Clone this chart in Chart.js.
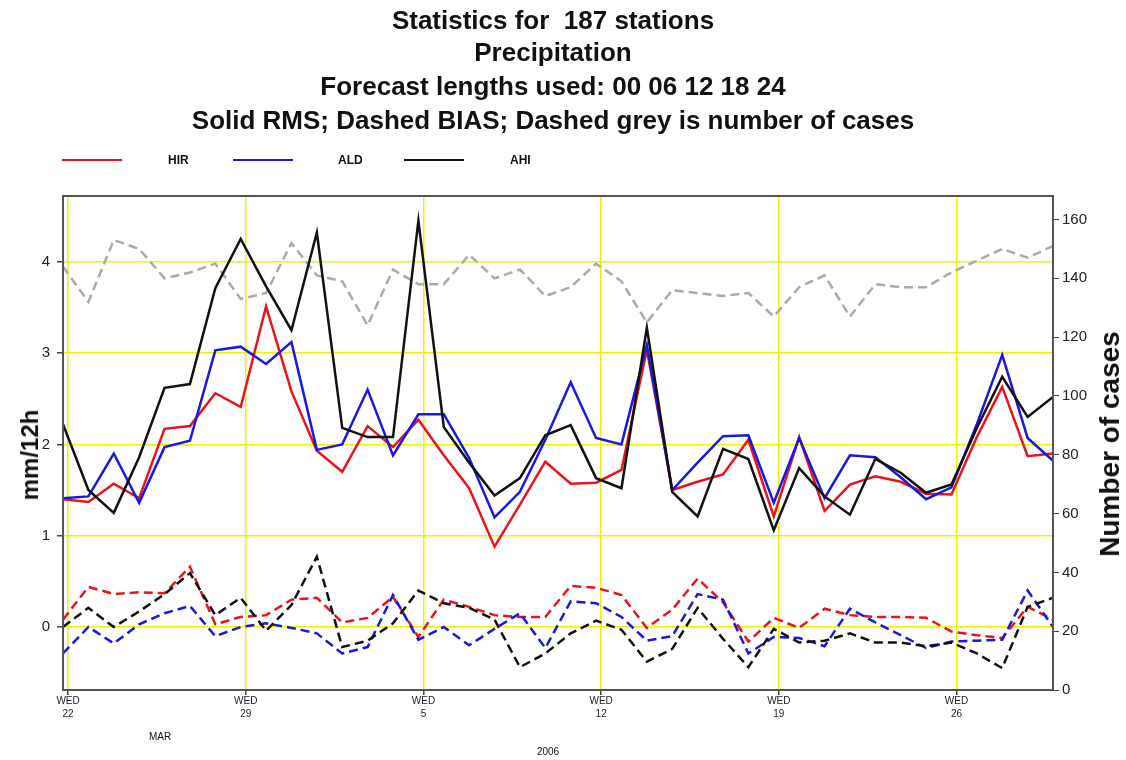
<!DOCTYPE html>
<html>
<head>
<meta charset="utf-8">
<script src="https://cdn.jsdelivr.net/npm/chart.js@4.4.0/dist/chart.umd.min.js"></script>
<style>
  body { margin: 0; background: #fff; }
  #wrap { position: relative; width: 1126px; height: 760px; font-family: "Liberation Sans", Arial, sans-serif; color: #111; }
  canvas { position: absolute; left: 0; top: 0; }
  .title { position: absolute; left: 0; width: 1106px; text-align: center; font-weight: bold; font-size: 26px; line-height: 34px; white-space: pre; }
  .leg-line { position: absolute; height: 2px; width: 60px; top: 159px; }
  .leg-text { position: absolute; top: 153px; font-size: 12px; font-weight: bold; line-height: 14px; }
  .axis-title { position: absolute; font-weight: bold; white-space: nowrap; transform: translate(-50%, -50%) rotate(-90deg); }
  .small { position: absolute; font-size: 10px; transform: translateX(-50%); }
</style>
</head>
<body>
<div id="wrap">
  <canvas id="chart" width="1126" height="760"></canvas>
  <div class="title" style="top:3px">Statistics for  187 stations</div>
  <div class="title" style="top:35px">Precipitation</div>
  <div class="title" style="top:69px">Forecast lengths used: 00 06 12 18 24</div>
  <div class="title" style="top:103px">Solid RMS; Dashed BIAS; Dashed grey is number of cases</div>

  <div class="leg-line" style="left:62px; background:#e8141c"></div>
  <div class="leg-text" style="left:168px">HIR</div>
  <div class="leg-line" style="left:233px; background:#1818e0"></div>
  <div class="leg-text" style="left:338px">ALD</div>
  <div class="leg-line" style="left:404px; background:#111"></div>
  <div class="leg-text" style="left:510px">AHI</div>

  <div class="axis-title" style="left:30px; top:455px; font-size:24px">mm/12h</div>
  <div class="axis-title" style="left:1110px; top:444px; font-size:28px">Number of cases</div>

  <div class="small" style="left:160px; top:731px">MAR</div>
  <div class="small" style="left:548px; top:746px">2006</div>
</div>
<script>
// one value per day, starting WED 22 MAR 2006
const hirRms  = [1.40, 1.37, 1.57, 1.41, 2.17, 2.20, 2.56, 2.41, 3.51, 2.58, 1.93, 1.70, 2.20, 1.97, 2.27, 1.88, 1.52, 0.88, 1.34, 1.81,
                 1.57, 1.58, 1.72, 3.04, 1.50, 1.59, 1.67, 2.05, 1.21, 2.08, 1.27, 1.56, 1.65, 1.59, 1.46, 1.45, 2.08, 2.63, 1.87, 1.90];
const aldRms  = [1.41, 1.43, 1.90, 1.36, 1.97, 2.04, 3.03, 3.07, 2.88, 3.12, 1.94, 2.00, 2.60, 1.88, 2.33, 2.33, 1.85, 1.20, 1.48, 2.05,
                 2.68, 2.07, 2.00, 3.09, 1.50, 1.80, 2.09, 2.10, 1.36, 2.07, 1.41, 1.88, 1.86, 1.64, 1.40, 1.53, 2.22, 2.98, 2.07, 1.82];
const ahiRms  = [2.22, 1.50, 1.25, 1.86, 2.62, 2.66, 3.71, 4.25, 3.73, 3.25, 4.32, 2.18, 2.08, 2.08, 4.45, 2.19, 1.80, 1.44, 1.63, 2.10,
                 2.21, 1.63, 1.52, 3.28, 1.48, 1.21, 1.95, 1.84, 1.06, 1.74, 1.43, 1.23, 1.84, 1.69, 1.47, 1.56, 2.18, 2.74, 2.30, 2.52];
const hirBias = [0.08, 0.44, 0.36, 0.38, 0.37, 0.66, 0.03, 0.11, 0.13, 0.30, 0.32, 0.05, 0.10, 0.33, -0.11, 0.30, 0.22, 0.13, 0.11, 0.11,
                 0.45, 0.43, 0.35, -0.01, 0.19, 0.53, 0.27, -0.16, 0.10, -0.01, 0.20, 0.13, 0.11, 0.11, 0.10, -0.05, -0.09, -0.12, 0.22, 0.08];
const aldBias = [-0.29, 0.00, -0.18, 0.03, 0.15, 0.23, -0.10, 0.00, 0.04, -0.01, -0.07, -0.29, -0.22, 0.35, -0.14, 0.00, -0.20, -0.02, 0.15, -0.23,
                 0.28, 0.26, 0.11, -0.15, -0.10, 0.36, 0.30, -0.29, -0.11, -0.12, -0.21, 0.20, 0.05, -0.09, -0.23, -0.16, -0.15, -0.14, 0.40, 0.00];
const ahiBias = [0.00, 0.21, 0.00, 0.17, 0.36, 0.59, 0.13, 0.32, -0.04, 0.24, 0.77, -0.22, -0.15, 0.04, 0.40, 0.26, 0.21, 0.08, -0.44, -0.29,
                 -0.07, 0.07, -0.03, -0.38, -0.24, 0.21, -0.13, -0.44, -0.02, -0.17, -0.15, -0.07, -0.17, -0.17, -0.21, -0.17, -0.29, -0.45, 0.22, 0.32];
const cases   = [144, 132, 153, 150, 140, 142, 145, 133, 135, 152, 141, 139, 124, 143, 138, 138, 148, 140, 143, 134,
                 137, 145, 139, 125, 136, 135, 134, 135, 127, 137, 141, 127, 138, 137, 137, 142, 146, 150, 147, 151];

const weekDays = ['22', '29', '5', '12', '19', '26'];
const mmTicks = [0, 1, 2, 3, 4];
const caseTicks = [0, 20, 40, 60, 80, 100, 120, 140, 160];

const pts = arr => arr.map((v, i) => ({ x: i, y: v }));

const RED = '#e8141c', BLUE = '#1818e0', BLACK = '#111111', GREY = '#aaaaaa';
const DASH = [9, 5];

const framePlugin = {
  id: 'frame',
  afterDatasetsDraw(chart) {
    const { ctx, chartArea: a } = chart;
    ctx.save();
    ctx.strokeStyle = '#555';
    ctx.lineWidth = 2;
    ctx.strokeRect(a.left, a.top, a.right - a.left, a.bottom - a.top);
    ctx.restore();
  }
};

const line = (label, data, color, dashed, axis) => ({
  label, data: pts(data), borderColor: color, borderWidth: 2.5,
  borderDash: dashed ? DASH : [], yAxisID: axis || 'y', pointRadius: 0, tension: 0, fill: false
});

new Chart(document.getElementById('chart').getContext('2d'), {
  type: 'line',
  data: {
    datasets: [
      line('AHI RMS', ahiRms, BLACK, false),
      line('ALD RMS', aldRms, BLUE, false),
      line('HIR RMS', hirRms, RED, false),
      line('AHI BIAS', ahiBias, BLACK, true),
      line('ALD BIAS', aldBias, BLUE, true),
      line('HIR BIAS', hirBias, RED, true),
      line('Cases', cases, GREY, true, 'y2')
    ]
  },
  options: {
    responsive: false,
    animation: false,
    layout: { padding: { top: 196, left: 0, right: 0, bottom: 0 } },
    plugins: { legend: { display: false }, title: { display: false }, tooltip: { enabled: false } },
    scales: {
      x: {
        type: 'linear', min: 0, max: 39,
        afterBuildTicks: s => { s.ticks = weekDays.map((d, i) => ({ value: i * 7 + 0.2 })); },
        afterFit: s => { s.height = 70; },
        grid: { color: '#f2f200', lineWidth: 1.5, tickColor: '#444', tickLength: 5 },
        border: { display: false },
        ticks: {
          autoSkip: false, maxRotation: 0, padding: 0, color: '#222',
          font: { family: 'Liberation Sans', size: 10, lineHeight: 1.25 },
          callback: (v, i) => ['WED', weekDays[i]]
        }
      },
      y: {
        position: 'left', min: -0.69, max: 4.72,
        afterBuildTicks: s => { s.ticks = mmTicks.map(v => ({ value: v })); },
        afterFit: s => { s.width = 63; },
        grid: { color: '#f2f200', lineWidth: 1.5, tickColor: '#444', tickLength: 6 },
        border: { display: false },
        ticks: { padding: 7, color: '#222', font: { family: 'Liberation Sans', size: 15 } }
      },
      y2: {
        position: 'right', min: 0, max: 168,
        afterBuildTicks: s => { s.ticks = caseTicks.map(v => ({ value: v })); },
        afterFit: s => { s.width = 73; },
        grid: { drawOnChartArea: false, tickColor: '#444', tickLength: 6 },
        border: { display: false },
        ticks: { padding: 3, color: '#222', font: { family: 'Liberation Sans', size: 15 } }
      }
    }
  },
  plugins: [framePlugin]
});
</script>
</body>
</html>
